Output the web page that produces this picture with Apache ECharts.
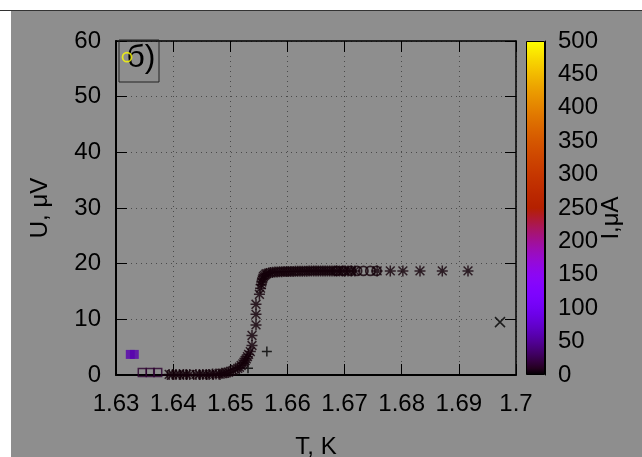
<!DOCTYPE html>
<html><head><meta charset="utf-8">
<script src="https://cdn.jsdelivr.net/npm/echarts@6/dist/echarts.min.js"></script>
<style>
html,body{margin:0;padding:0;background:#fff;}
#topline{position:absolute;left:0;top:10px;width:642px;height:1px;background:#333;}
#chart{position:absolute;left:11px;top:11px;width:631px;height:446px;background:#8e8e8e;}
</style></head><body>
<div id="topline"></div>
<div id="chart"></div>
<script>
// ---- data ----
const xTicks = [1.63,1.64,1.65,1.66,1.67,1.68,1.69,1.7];
const yTicks = [0,10,20,30,40,50,60];
const cbTicks = [0,50,100,150,200,250,300,350,400,450,500];
const cbRange = [0,500];

// asterisk series (main U(T) curve)
const starT = [1.6393,1.6399,1.6405,1.6411,1.6418,1.6423,1.6429,1.6440,1.6446,1.6452,1.6458,1.6463,1.6469,1.6475,1.6480,1.6485,
 1.6489,1.6493,1.6497,1.6501,1.6505,1.6509,1.6513,1.6516,1.6519,1.6522,1.6524,1.6526,1.6528,1.6530,1.6532,1.6535,
 1.6538,1.6538,1.6545,1.6545,1.6545,1.6551,
 1.6553,1.6554,1.6555,1.6556,1.6557,1.6558,1.6560,1.6562,1.6564,1.6567,
 1.6570,1.6574,1.6578,1.6582,1.6586,1.6590,1.6594,1.6598,1.6602,1.6606,1.6610,1.6614,1.6618,1.6622,1.6626,1.6630,1.6634,1.6638,
 1.6642,1.6646,1.6650,1.6654,1.6658,1.6662,1.6666,1.6670,1.6674,1.6678,1.6682,1.6686,1.6691,1.6696,1.6701,1.6706,1.6712,1.6718,
 1.6757,1.6780,1.6802,1.6832,1.6871,1.6916];
const starU = [0.1,0.1,0.1,0.1,0.1,0.1,0.1,0.1,0.1,0.1,0.1,0.1,0.2,0.2,0.2,0.3,
 0.3,0.4,0.5,0.7,0.8,1.0,1.2,1.4,1.7,2.0,2.3,2.6,2.9,3.3,3.7,4.2,
 5.3,7.1,9.0,10.9,12.7,14.5,
 15.6,16.2,16.7,17.1,17.4,17.7,17.9,18.1,18.2,18.3,
 18.4,18.45,18.5,18.5,18.55,18.55,18.6,18.6,18.6,18.6,18.6,18.65,18.65,18.65,18.65,18.65,18.65,18.7,
 18.7,18.7,18.7,18.7,18.7,18.7,18.7,18.7,18.7,18.7,18.7,18.7,18.7,18.7,18.7,18.7,18.7,18.7,
 18.7,18.7,18.7,18.7,18.7,18.7];
const starI = 3;

// plus series
const plusT = [1.6390,1.6401,1.6413,1.6424,1.6436,1.6447,1.6459,1.6470,1.6482,1.6531,1.6564];
const plusU = [0,0,0,0,0,0,0,0,0,1.2,4.2];
const plusI = [3,3,3,3,3,3,3,3,3,0,0];

// cross series
const crossT = [1.6972];
const crossU = [9.5];
const crossI = [0];

// open squares
const sqT = [1.6346,1.6360,1.6373];
const sqU = [0.45,0.45,0.45];
const sqI = [15,15,15];

// filled squares
const fsqT = [1.6325,1.6332];
const fsqU = [3.7,3.7];
const fsqI = [60,60];

// open circles
const circT = [1.63193,1.6686,1.6698,1.6711,1.6722,1.6733,1.6745,1.6756];
const circU = [57.1,18.7,18.7,18.7,18.7,18.7,18.7,18.7];
const circI = [500,3,3,3,3,3,3,3];

// ---- gnuplot default palette (rgbformulae 7,5,15) ----
function pal(I){
  const x = Math.min(1, Math.max(0, I/500));
  const r = Math.sqrt(x), g = x*x*x, b = Math.max(0, Math.sin(2*Math.PI*x));
  const h = v => Math.round(v*255).toString(16).padStart(2,'0');
  return '#'+h(r)+h(g)+h(b);
}

const FONT = 'Liberation Sans';
const txt = {color:'#000', fontFamily:FONT, fontSize:24};

function pts(T,U,I){
  return T.map((t,i)=>({value:[t,U[i]], itemStyle:{borderColor: pal(Array.isArray(I)?I[i]:I)}}));
}
function fpts(T,U,I){
  return T.map((t,i)=>({value:[t,U[i]], itemStyle:{color: pal(I[i]), borderColor: pal(I[i])}}));
}
const strokeStyle = {color:'rgba(0,0,0,0)', borderWidth:1.5};

const chart = echarts.init(document.getElementById('chart'), null, {renderer:'canvas'});
const stops = [];
for(let k=0;k<=50;k++){ stops.push({offset:k/50, color: pal(cbRange[1]*k/50)}); }

chart.setOption({
  animation:false,
  backgroundColor:'transparent',
  grid:[
    {left:105, top:30, width:400, height:334, outerBoundsMode:'none', containLabel:false},
    {left:515, top:30, width:19, height:334, outerBoundsMode:'none', containLabel:false}
  ],
  xAxis:[
    {type:'value', gridIndex:0, min:xTicks[0], max:xTicks[xTicks.length-1], interval:0.01,
     axisLine:{show:true, onZero:false, lineStyle:{color:'#000', width:2}},
     axisTick:{inside:true, length:11, lineStyle:{color:'#000'}},
     axisLabel:Object.assign({margin:17, formatter:v=>String(+(+v).toFixed(2))}, txt),
     splitLine:{show:true, lineStyle:{color:'#4a4a4a', type:[1,4], width:1}},
     name:'T, K', nameLocation:'middle', nameGap:60, nameTextStyle:txt},
    {type:'value', gridIndex:0, position:'top', min:xTicks[0], max:xTicks[xTicks.length-1], interval:0.01,
     axisLine:{show:true, onZero:false, lineStyle:{color:'#000', width:1.5}},
     axisTick:{inside:true, length:11, lineStyle:{color:'#000'}},
     axisLabel:{show:false}, splitLine:{show:false}},
    {type:'category', gridIndex:1, data:['I'], show:false}
  ],
  yAxis:[
    {type:'value', gridIndex:0, min:yTicks[0], max:yTicks[yTicks.length-1], interval:10,
     axisLine:{show:true, onZero:false, lineStyle:{color:'#000', width:2}},
     axisTick:{inside:true, length:11, lineStyle:{color:'#000'}},
     axisLabel:Object.assign({margin:15}, txt),
     splitLine:{show:true, lineStyle:{color:'#4a4a4a', type:[1,4], width:1}},
     name:'U, μV', nameLocation:'middle', nameGap:64, nameTextStyle:txt},
    {type:'value', gridIndex:0, position:'right', min:yTicks[0], max:yTicks[yTicks.length-1], interval:10,
     axisLine:{show:true, onZero:false, lineStyle:{color:'#000', width:1.5}},
     axisTick:{inside:true, length:11, lineStyle:{color:'#000'}},
     axisLabel:{show:false}, splitLine:{show:false}},
    {type:'value', gridIndex:1, position:'right', min:cbRange[0], max:cbRange[1], interval:50, z:5,
     axisLine:{show:true, lineStyle:{color:'#000', width:1}},
     axisTick:{inside:true, length:19, lineStyle:{color:'#000'}},
     axisLabel:Object.assign({margin:13}, txt),
     splitLine:{show:false}}
  ],
  graphic:[
    {type:'rect', shape:{x:108, y:29, width:40, height:42}, style:{fill:'none', stroke:'#222', lineWidth:1}, z:1},
    {type:'text', x:130, y:47, style:{text:'б)', font:'32px "Liberation Sans"', fill:'#000', align:'center', verticalAlign:'middle'}, z:1},
    {type:'text', x:600, y:207, rotation:Math.PI/2, style:{text:'I,μA', font:'24px "Liberation Sans"', fill:'#000', align:'center', verticalAlign:'middle'}, z:10}
  ],
  series:[
    {type:'bar', xAxisIndex:2, yAxisIndex:2, data:[cbRange[1]], barWidth:'100%', silent:true,
     itemStyle:{color:new echarts.graphic.LinearGradient(0,1,0,0,stops), borderColor:'#000', borderWidth:1}},
    {type:'scatter', xAxisIndex:0, yAxisIndex:0, symbol:'path://M5,0L5,10M0,5L10,5', symbolSize:10,
     itemStyle:strokeStyle, data:pts(plusT,plusU,plusI), z:3},
    {type:'scatter', xAxisIndex:0, yAxisIndex:0, symbol:'path://M0,0L10,10M0,10L10,0', symbolSize:10,
     itemStyle:strokeStyle, data:pts(crossT,crossU,crossI), z:3},
    {type:'scatter', xAxisIndex:0, yAxisIndex:0, symbol:'path://M5,0L5,10M0,5L10,5M1,1L9,9M1,9L9,1', symbolSize:11,
     itemStyle:strokeStyle, data:pts(starT,starU,starI), z:3},
    {type:'scatter', xAxisIndex:0, yAxisIndex:0, symbol:'rect', symbolSize:8,
     itemStyle:strokeStyle, data:pts(sqT,sqU,sqI), z:3},
    {type:'scatter', xAxisIndex:0, yAxisIndex:0, symbol:'rect', symbolSize:9,
     itemStyle:{borderWidth:0}, data:fpts(fsqT,fsqU,fsqI), z:3},
    {type:'scatter', xAxisIndex:0, yAxisIndex:0, symbol:'circle', symbolSize:9,
     itemStyle:{color:'rgba(0,0,0,0)', borderWidth:1.8}, data:pts(circT,circU,circI), z:4}
  ]
});
</script>
</body></html>
